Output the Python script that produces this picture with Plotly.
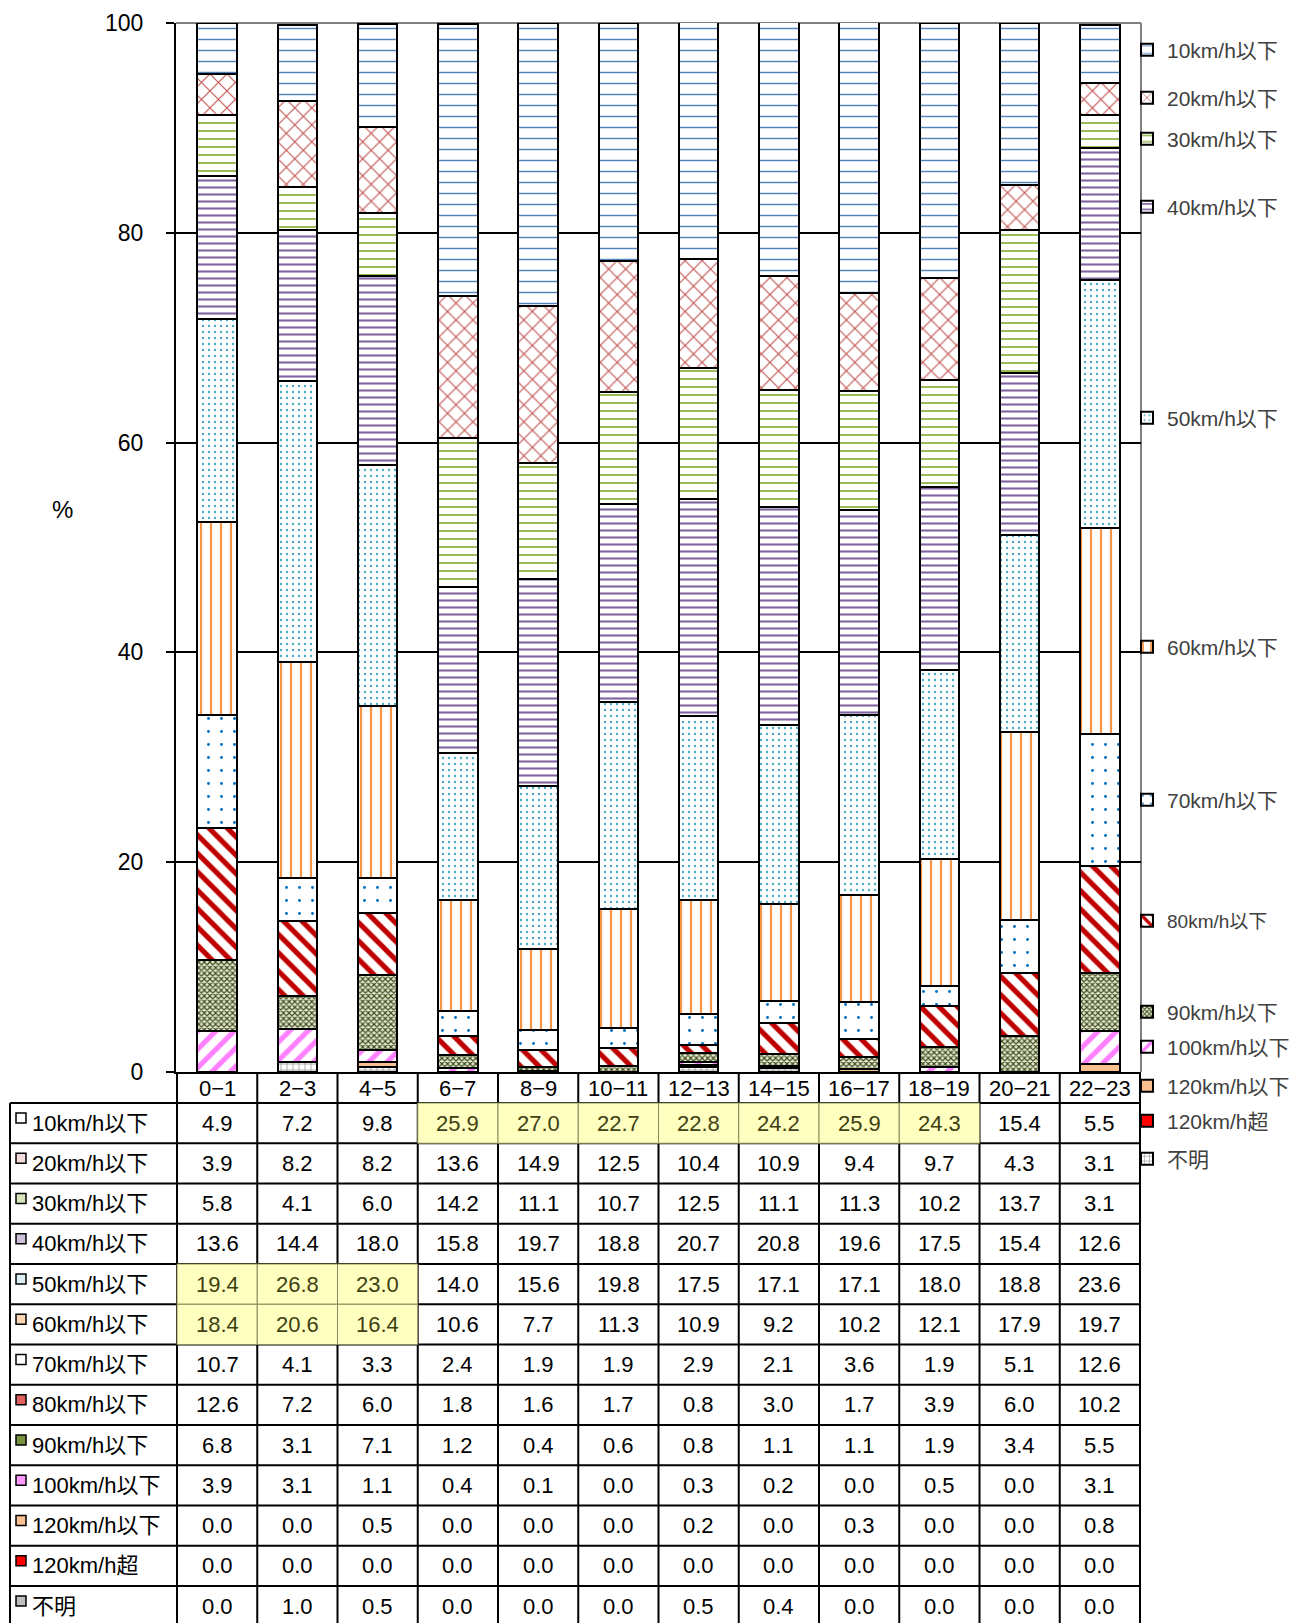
import plotly.graph_objects as go

# Hour-of-day groups (columns)
hours = ["0−1", "2−3", "4−5", "6−7", "8−9", "10−11", "12−13",
         "14−15", "16−17", "18−19", "20−21", "22−23"]

# Speed classes, top of the stack first (same order as the table rows)
speed_labels = ["10km/h以下", "20km/h以下", "30km/h以下", "40km/h以下",
                "50km/h以下", "60km/h以下", "70km/h以下", "80km/h以下",
                "90km/h以下", "100km/h以下", "120km/h以下", "120km/h超", "不明"]

# Share (%) of each speed class per hour group
s10 = [4.9, 7.2, 9.8, 25.9, 27.0, 22.7, 22.8, 24.2, 25.9, 24.3, 15.4, 5.5]
s20 = [3.9, 8.2, 8.2, 13.6, 14.9, 12.5, 10.4, 10.9, 9.4, 9.7, 4.3, 3.1]
s30 = [5.8, 4.1, 6.0, 14.2, 11.1, 10.7, 12.5, 11.1, 11.3, 10.2, 13.7, 3.1]
s40 = [13.6, 14.4, 18.0, 15.8, 19.7, 18.8, 20.7, 20.8, 19.6, 17.5, 15.4, 12.6]
s50 = [19.4, 26.8, 23.0, 14.0, 15.6, 19.8, 17.5, 17.1, 17.1, 18.0, 18.8, 23.6]
s60 = [18.4, 20.6, 16.4, 10.6, 7.7, 11.3, 10.9, 9.2, 10.2, 12.1, 17.9, 19.7]
s70 = [10.7, 4.1, 3.3, 2.4, 1.9, 1.9, 2.9, 2.1, 3.6, 1.9, 5.1, 12.6]
s80 = [12.6, 7.2, 6.0, 1.8, 1.6, 1.7, 0.8, 3.0, 1.7, 3.9, 6.0, 10.2]
s90 = [6.8, 3.1, 7.1, 1.2, 0.4, 0.6, 0.8, 1.1, 1.1, 1.9, 3.4, 5.5]
s100 = [3.9, 3.1, 1.1, 0.4, 0.1, 0.0, 0.3, 0.2, 0.0, 0.5, 0.0, 3.1]
s120 = [0.0, 0.0, 0.5, 0.0, 0.0, 0.0, 0.2, 0.0, 0.3, 0.0, 0.0, 0.8]
s120over = [0.0] * 12
unknown = [0.0, 1.0, 0.5, 0.0, 0.0, 0.0, 0.5, 0.4, 0.0, 0.0, 0.0, 0.0]

series = [s10, s20, s30, s40, s50, s60, s70, s80, s90, s100, s120, s120over, unknown]

# Cells shaded yellow in the table: (row index, column index)
highlight_cells = [(0, c) for c in range(3, 10)] + [(4, c) for c in range(3)] + [(5, c) for c in range(3)]

# ---- styling -------------------------------------------------------------
FONT = "Liberation Sans, Arial, Noto Sans CJK JP, sans-serif"
W, H = 1301, 1623
L, R, T, B = 176, 1141, 23, 1072          # plot area in pixels
PW, PH = R - L, B - T

def px(x):
    return (x - L) / PW

def py(y):
    return (B - y) / PH

styles = {
    "10km/h以下": dict(shape="-", fg="#4F81BD", bg="white", size=11, sol=0.13),
    "20km/h以下": dict(shape="x", fg="#C0504D", bg="white", size=12, sol=0.17),
    "30km/h以下": dict(shape="-", fg="#9BBB59", bg="white", size=8, sol=0.25),
    "40km/h以下": dict(shape="-", fg="#8064A2", bg="white", size=7, sol=0.3),
    "50km/h以下": dict(shape=".", fg="#4BACC6", bg="white", size=6, sol=0.12),
    "60km/h以下": dict(shape="|", fg="#F79646", bg="white", size=10, sol=0.22),
    "70km/h以下": dict(shape=".", fg="#0070C0", bg="white", size=13, sol=0.04),
    "80km/h以下": dict(shape="\\", fg="#C00000", bg="white", size=13, sol=0.4),
    "90km/h以下": dict(shape="x", fg="#3F4A1C", bg="#E4EAD2", size=4, sol=0.5),
    "100km/h以下": dict(shape="/", fg="#FF80FF", bg="white", size=13, sol=0.4),
    "120km/h以下": dict(shape="", fg="#FAC090", bg="#FAC090", size=8, sol=0.3),
    "120km/h超": dict(shape="", fg="#FF0000", bg="#FF0000", size=8, sol=0.3),
    "不明": dict(shape="+", fg="#808080", bg="white", size=6, sol=0.2),
}

icon_fill = {
    "10km/h以下": "white", "20km/h以下": "#F2DCDB", "30km/h以下": "#D7E4BC",
    "40km/h以下": "#CCC0DA", "50km/h以下": "#DAEEF3", "60km/h以下": "#FCD5B4",
    "70km/h以下": "white", "80km/h以下": "#E06060", "90km/h以下": "#76923C",
    "100km/h以下": "#FF99FF", "120km/h以下": "#FAC090", "120km/h超": "#FF0000",
    "不明": "#BFBFBF",
}

# y-centre (px) of each legend entry on the right side
legend_y = [50, 98, 139, 207, 418, 647, 800, 921, 1012, 1047, 1086, 1121, 1159]

fig = go.Figure()

# bottom of the stack first
for idx in reversed(range(len(speed_labels))):
    name = speed_labels[idx]
    st = styles[name]
    lg = "legend" if idx == 0 else f"legend{idx + 1}"
    fig.add_trace(go.Bar(
        x=hours, y=series[idx], name=name, legend=lg, showlegend=True,
        marker=dict(
            color=st["fg"],
            line=dict(color="black", width=2),
            pattern=dict(shape=st["shape"], fgcolor=st["fg"], bgcolor=st["bg"],
                         size=st["size"], solidity=st["sol"], fillmode="replace"),
        ),
        hoverinfo="skip",
    ))

layout_legends = {}
for idx, name in enumerate(speed_labels):
    key = "legend" if idx == 0 else f"legend{idx + 1}"
    layout_legends[key] = dict(
        x=px(1127), y=py(legend_y[idx]), xanchor="left", yanchor="middle",
        bgcolor="rgba(0,0,0,0)", borderwidth=0, itemwidth=30,
        font=dict(family=FONT, size=19 if name == "80km/h以下" else 21, color="#404040"),
    )

shapes = []
annotations = []

# grey frame on top and right of the plot area
shapes.append(dict(type="line", xref="paper", yref="paper", x0=0, x1=1, y0=1, y1=1,
                   line=dict(color="#808080", width=2), layer="between"))
shapes.append(dict(type="line", xref="paper", yref="paper", x0=1, x1=1, y0=0, y1=1,
                   line=dict(color="#808080", width=2), layer="between"))

# ---- data table under the chart -----------------------------------------
ROW0, ROWH = 1103, 40.25
TL = 10
n_rows = len(speed_labels)
bottom_y = py(H + 5)

# horizontal rules
for k in range(n_rows + 1):
    y = py(ROW0 + k * ROWH)
    shapes.append(dict(type="line", xref="paper", yref="paper", x0=px(TL), x1=1,
                       y0=y, y1=y, line=dict(color="black", width=2)))
# vertical rules
shapes.append(dict(type="line", xref="paper", yref="paper", x0=px(TL), x1=px(TL),
                   y0=py(ROW0), y1=bottom_y, line=dict(color="black", width=2)))
for c in range(len(hours) + 1):
    shapes.append(dict(type="line", xref="x", yref="paper", x0=c - 0.5, x1=c - 0.5,
                       y0=0, y1=bottom_y, line=dict(color="black", width=2)))

# yellow cells
for (r, c) in highlight_cells:
    shapes.append(dict(type="rect", xref="x", yref="paper",
                       x0=c - 0.5, x1=c + 0.5,
                       y0=py(ROW0 + r * ROWH), y1=py(ROW0 + (r + 1) * ROWH),
                       fillcolor="#FFFFC0", line=dict(color="#8A8A5C", width=1)))

# column headers
for c, hname in enumerate(hours):
    annotations.append(dict(text=hname, xref="x", yref="paper", x=c, y=py(1088),
                            xanchor="center", yanchor="middle", showarrow=False,
                            font=dict(family=FONT, size=22, color="black")))

hl = set(highlight_cells)
for r, name in enumerate(speed_labels):
    yc = py(ROW0 + (r + 0.5) * ROWH)
    # legend key icon and row label
    shapes.append(dict(type="rect", xref="paper", yref="paper",
                       x0=px(16), x1=px(26),
                       y0=py(ROW0 + r * ROWH + 10), y1=py(ROW0 + r * ROWH + 20),
                       fillcolor=icon_fill[name], line=dict(color="black", width=1.5)))
    annotations.append(dict(text=name, xref="paper", yref="paper", x=px(30), y=yc,
                            xanchor="left", yanchor="middle", showarrow=False,
                            font=dict(family=FONT, size=22, color="black")))
    for c, v in enumerate(series[r]):
        annotations.append(dict(text=f"{v:.1f}", xref="x", yref="paper", x=c, y=yc,
                                xanchor="center", yanchor="middle", showarrow=False,
                                font=dict(family=FONT, size=22,
                                          color="#3F3F14" if (r, c) in hl else "black")))

annotations.append(dict(text="%", xref="paper", yref="paper", x=px(62), y=py(510),
                        xanchor="center", yanchor="middle", showarrow=False,
                        font=dict(family=FONT, size=24, color="black")))

fig.update_layout(
    width=W, height=H,
    margin=dict(l=L, r=W - R, t=T, b=H - B, autoexpand=False),
    paper_bgcolor="white", plot_bgcolor="white",
    barmode="stack", bargap=0.51, showlegend=True,
    font=dict(family=FONT, color="black"),
    xaxis=dict(type="category", showline=True, linecolor="black", linewidth=2,
               ticks="", showgrid=False, showticklabels=False, fixedrange=True),
    yaxis=dict(range=[0, 100], tickvals=[0, 20, 40, 60, 80, 100], showline=True,
               linecolor="black", linewidth=2, ticks="outside", ticklen=8,
               tickwidth=2, tickcolor="black", showgrid=True, gridcolor="black",
               gridwidth=1.5, zeroline=False, ticklabelstandoff=18,
               tickfont=dict(family=FONT, size=23, color="black"), fixedrange=True),
    shapes=shapes,
    annotations=annotations,
    **layout_legends,
)

fig.write_html("out.html")
